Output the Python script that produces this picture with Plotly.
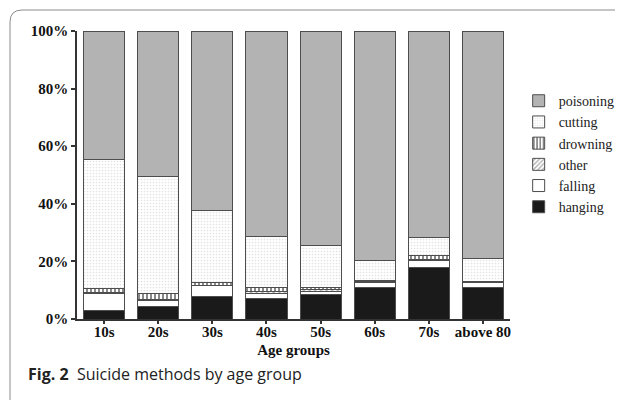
import plotly.graph_objects as go

categories = ["10s", "20s", "30s", "40s", "50s", "60s", "70s", "above 80"]
hanging = [3.0, 4.2, 7.9, 7.1, 8.6, 10.8, 18.0, 10.8]
falling = [6.0, 2.3, 3.6, 1.9, 1.1, 2.0, 2.2, 1.9]
other = [0.3, 0.4, 0.3, 0.4, 0.4, 0.2, 0.3, 0.2]
drowning = [1.2, 1.8, 0.9, 1.6, 0.9, 0.2, 1.5, 0.2]
cutting = [45.0, 40.8, 25.1, 17.7, 14.5, 7.0, 6.3, 7.9]
poisoning = [44.5, 50.5, 62.2, 71.3, 74.5, 79.8, 71.7, 79.0]
y_ticks = [0, 20, 40, 60, 80, 100]
y_labels = ["0%", "20%", "40%", "60%", "80%", "100%"]

outline = dict(color="#4d4d4d", width=1)
series = [
    ("hanging", hanging, dict(color="#1a1a1a", line=outline)),
    ("falling", falling, dict(color="#ffffff", line=outline)),
    ("other", other, dict(color="#ffffff", line=outline,
                          pattern=dict(shape="/", fgcolor="#555555", bgcolor="#ffffff", size=4, solidity=0.4))),
    ("drowning", drowning, dict(color="#ffffff", line=outline,
                                pattern=dict(shape="|", fgcolor="#111111", bgcolor="#ffffff", size=4, solidity=0.5))),
    ("cutting", cutting, dict(color="#ffffff", line=outline,
                              pattern=dict(shape=".", fgcolor="#c8c8c8", bgcolor="#ffffff", size=3, solidity=0.25))),
    ("poisoning", poisoning, dict(color="#b3b3b3", line=outline)),
]

fig = go.Figure()
for name, vals, marker in series:
    fig.add_trace(go.Bar(name=name, x=categories, y=vals, marker=marker))

serif = "Liberation Serif, Times New Roman, serif"
fig.update_layout(
    width=615, height=392,
    margin=dict(l=69, r=113, t=23, b=81, autoexpand=False),
    barmode="stack", bargap=0.24,
    paper_bgcolor="white", plot_bgcolor="white",
    showlegend=True,
    legend=dict(traceorder="reversed", x=1.02, y=0.812, xanchor="left", yanchor="top",
                font=dict(family=serif, size=14, color="#222"), bgcolor="rgba(0,0,0,0)",
                itemwidth=30),
    xaxis=dict(showline=True, linecolor="#333", linewidth=1.5, ticks="outside", ticklen=3,
               tickcolor="#333", tickwidth=1.5, ticklabelstandoff=-5,
               tickvals=categories, ticktext=["<b>" + c + "</b>" for c in categories],
               tickfont=dict(family=serif, size=15, color="#111"),
               title=dict(text="<b>Age groups</b>", font=dict(family=serif, size=15, color="#111"), standoff=6)),
    yaxis=dict(range=[0, 100], tickvals=y_ticks, ticktext=["<b>" + t + "</b>" for t in y_labels],
               showline=True, linecolor="#333",
               linewidth=1.5, ticks="outside", ticklen=4, tickcolor="#333", tickwidth=1.5,
               showgrid=False, zeroline=False,
               tickfont=dict(family=serif, size=15, color="#111")),
)

# card border
fig.add_shape(type="path", xref="paper", yref="paper", xsizemode="pixel", ysizemode="pixel",
              xanchor=0, yanchor=0,
              path="M -67,-120 L -67,297 Q -67,309 -55,309 L 600,309",
              line=dict(color="#8c8c8c", width=1))

fig.add_annotation(xref="paper", yref="paper", x=-0.118, y=-0.192, xanchor="left", yanchor="middle",
                   text="<b>Fig. 2</b>  Suicide methods by age group", showarrow=False,
                   font=dict(family="Open Sans, sans-serif", size=16, color="#222"))

fig.write_html("out.html")
